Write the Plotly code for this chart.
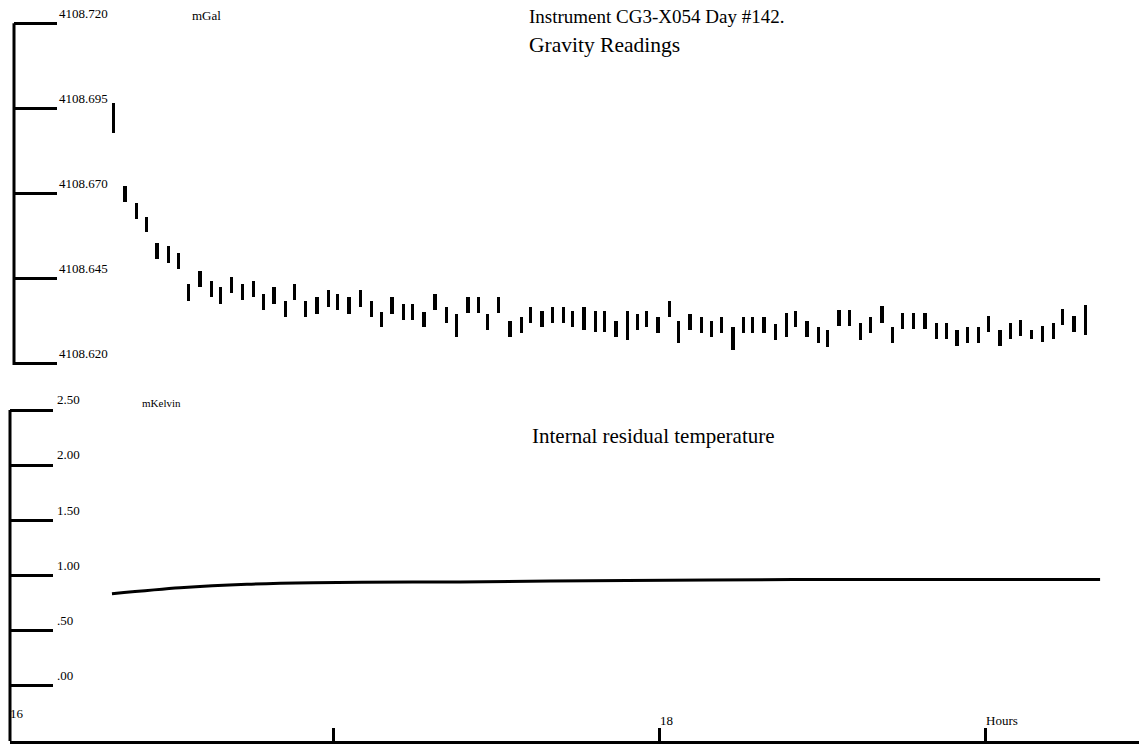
import plotly.graph_objects as go

# ---------------- data ----------------
# Gravity readings: time (decimal hours) and reading range (mGal)
grav_hours = [16.328, 16.362, 16.396, 16.429, 16.460, 16.494, 16.525, 16.558, 16.592, 16.626,
              16.656, 16.690, 16.721, 16.755, 16.788, 16.819, 16.853, 16.883, 16.917, 16.951,
              16.985, 17.015, 17.049, 17.083, 17.117, 17.150, 17.181, 17.215, 17.245, 17.279,
              17.313, 17.347, 17.380, 17.414, 17.445, 17.475, 17.509, 17.543, 17.577, 17.607,
              17.641, 17.672, 17.706, 17.736, 17.770, 17.804, 17.834, 17.868, 17.902, 17.933,
              17.963, 17.997, 18.031, 18.061, 18.095, 18.129, 18.160, 18.193, 18.227, 18.258,
              18.288, 18.322, 18.356, 18.390, 18.420, 18.454, 18.488, 18.518, 18.552, 18.583,
              18.617, 18.650, 18.684, 18.715, 18.748, 18.782, 18.816, 18.850, 18.883, 18.914,
              18.945, 18.979, 19.012, 19.046, 19.077, 19.110, 19.144, 19.175, 19.209, 19.239,
              19.273, 19.307]

grav_high = [4108.6966, 4108.6721, 4108.6671, 4108.6630, 4108.6554, 4108.6545, 4108.6524, 4108.6433, 4108.6471, 4108.6442,
             4108.6424, 4108.6454, 4108.6433, 4108.6442, 4108.6404, 4108.6424, 4108.6383, 4108.6433, 4108.6383, 4108.6395,
             4108.6416, 4108.6404, 4108.6395, 4108.6416, 4108.6383, 4108.6351, 4108.6395, 4108.6374, 4108.6374, 4108.6351,
             4108.6404, 4108.6366, 4108.6345, 4108.6395, 4108.6395, 4108.6345, 4108.6395, 4108.6324, 4108.6336, 4108.6366,
             4108.6354, 4108.6366, 4108.6366, 4108.6354, 4108.6366, 4108.6354, 4108.6354, 4108.6324, 4108.6354, 4108.6345,
             4108.6354, 4108.6336, 4108.6383, 4108.6324, 4108.6345, 4108.6336, 4108.6324, 4108.6336, 4108.6307, 4108.6336,
             4108.6336, 4108.6336, 4108.6316, 4108.6348, 4108.6354, 4108.6324, 4108.6307, 4108.6298, 4108.6357, 4108.6357,
             4108.6319, 4108.6336, 4108.6369, 4108.6307, 4108.6348, 4108.6348, 4108.6348, 4108.6319, 4108.6319, 4108.6298,
             4108.6307, 4108.6307, 4108.6339, 4108.6298, 4108.6319, 4108.6327, 4108.6298, 4108.6310, 4108.6319, 4108.6360,
             4108.6339, 4108.6371]

grav_low = [4108.6877, 4108.6674, 4108.6624, 4108.6586, 4108.6507, 4108.6495, 4108.6477, 4108.6383, 4108.6424, 4108.6395,
            4108.6374, 4108.6407, 4108.6386, 4108.6395, 4108.6357, 4108.6374, 4108.6336, 4108.6386, 4108.6336, 4108.6345,
            4108.6366, 4108.6357, 4108.6345, 4108.6366, 4108.6336, 4108.6307, 4108.6345, 4108.6327, 4108.6327, 4108.6307,
            4108.6357, 4108.6319, 4108.6277, 4108.6348, 4108.6348, 4108.6298, 4108.6348, 4108.6277, 4108.6289, 4108.6319,
            4108.6307, 4108.6319, 4108.6319, 4108.6307, 4108.6298, 4108.6292, 4108.6292, 4108.6277, 4108.6269, 4108.6298,
            4108.6307, 4108.6289, 4108.6336, 4108.6260, 4108.6298, 4108.6289, 4108.6277, 4108.6289, 4108.6239, 4108.6289,
            4108.6289, 4108.6289, 4108.6269, 4108.6277, 4108.6307, 4108.6277, 4108.6260, 4108.6248, 4108.6310, 4108.6310,
            4108.6269, 4108.6289, 4108.6319, 4108.6260, 4108.6301, 4108.6301, 4108.6301, 4108.6271, 4108.6271, 4108.6251,
            4108.6260, 4108.6260, 4108.6292, 4108.6251, 4108.6271, 4108.6280, 4108.6271, 4108.6263, 4108.6271, 4108.6313,
            4108.6292, 4108.6283]

# Internal residual temperature (mKelvin)
temp_hours = [16.322, 16.531, 16.736, 16.939, 17.245, 17.390, 17.902, 18.411, 18.893, 19.353]
temp_vals = [0.834, 0.888, 0.920, 0.934, 0.940, 0.942, 0.955, 0.963, 0.963, 0.963]

grav_ticks = [4108.620, 4108.645, 4108.670, 4108.695, 4108.720]
grav_ticktext = ["4108.620", "4108.645", "4108.670", "4108.695", "4108.720"]
temp_ticks = [0.0, 0.5, 1.0, 1.5, 2.0, 2.5]
temp_ticktext = [".00", ".50", "1.00", "1.50", "2.00", "2.50"]
hour_ticks = [17, 18, 19]
hour_ticktext = ["", "18", "Hours"]

# ---------------- figure ----------------
W, H = 1139, 750
SERIF = "Liberation Serif, Times New Roman, serif"

fig = go.Figure()

fig.add_trace(go.Bar(
    x=grav_hours,
    base=grav_low,
    y=[h - l for h, l in zip(grav_high, grav_low)],
    width=0.0095,
    marker=dict(color="black", line=dict(width=0)),
    xaxis="x2", yaxis="y2",
    showlegend=False,
))

fig.add_trace(go.Scatter(
    x=temp_hours, y=temp_vals,
    mode="lines",
    line=dict(color="black", width=3, shape="spline", smoothing=0.8),
    xaxis="x", yaxis="y",
    showlegend=False,
))

px_per_hour = 326.0
x0_hour = 16 - 7 / px_per_hour  # hour 16 sits at pixel 7

def xr(left_px):
    return [x0_hour + left_px / px_per_hour, x0_hour + W / px_per_hour]

# vertical pixel scales
g_px = 3400.0      # px per mGal   (4108.720 at y=23.3, 4108.620 at y=363.3)
t_px = 331 / 3.0   # px per mK     (2.50 at y=410, -0.50 at y=741)
g_top_px, g_bot_px = 4, 365
t_top_px, t_bot_px = 392, 741
g_range = [4108.620 - (g_bot_px - 363.3) / g_px, 4108.720 + (23.3 - g_top_px) / g_px]
t_range = [-0.5, 2.5 + (410 - t_top_px) / t_px]

tickfont = dict(family=SERIF, size=13, color="black")

fig.update_layout(
    width=W, height=H,
    margin=dict(l=0, r=0, t=0, b=0),
    paper_bgcolor="white", plot_bgcolor="white",
    font=dict(family=SERIF, color="black"),
    bargap=0,
    xaxis=dict(
        domain=[10 / W, 1], range=xr(10), anchor="y",
        showline=True, linecolor="black", linewidth=3,
        ticks="inside", ticklen=13, tickwidth=3, tickcolor="black",
        tickvals=hour_ticks, ticktext=hour_ticktext,
        ticklabelposition="inside right", ticklabelstandoff=10, ticklabelshift=-2,
        tickfont=dict(family=SERIF, size=13, color="black"),
        showgrid=False, zeroline=False, fixedrange=True,
    ),
    yaxis=dict(
        domain=[(H - t_bot_px) / H, (H - t_top_px) / H], range=t_range, anchor="x",
        showline=False,
        ticks="inside", ticklen=43, tickwidth=2.5, tickcolor="black",
        tickvals=temp_ticks, ticktext=temp_ticktext,
        ticklabelposition="inside top", ticklabelstandoff=44,
        tickfont=tickfont,
        showgrid=False, zeroline=False, fixedrange=True,
    ),
    xaxis2=dict(
        domain=[14 / W, 1], range=xr(14), anchor="y2",
        visible=False, showgrid=False, zeroline=False, fixedrange=True,
    ),
    yaxis2=dict(
        domain=[(H - g_bot_px) / H, (H - g_top_px) / H], range=g_range, anchor="x2",
        showline=False,
        ticks="inside", ticklen=43, tickwidth=2.5, tickcolor="black",
        tickvals=grav_ticks, ticktext=grav_ticktext,
        ticklabelposition="inside top", ticklabelstandoff=42,
        tickfont=tickfont,
        showgrid=False, zeroline=False, fixedrange=True,
    ),
)

# vertical axis spines spanning exactly the labelled ranges
fig.add_shape(type="line", xref="x2 domain", yref="y2", x0=0, x1=0,
              y0=g_range[0], y1=grav_ticks[-1], line=dict(color="black", width=3))
fig.add_shape(type="line", xref="x domain", yref="y", x0=0, x1=0,
              y0=t_range[0], y1=temp_ticks[-1], line=dict(color="black", width=3))

def ann(text, x, y, size, xanchor="left"):
    fig.add_annotation(text=text, x=x / W, y=1 - y / H, xref="paper", yref="paper",
                       xanchor=xanchor, yanchor="middle", showarrow=False,
                       font=dict(family=SERIF, size=size, color="black"))

ann("Instrument CG3-X054 Day #142.", 527, 17, 19)
ann("Gravity Readings", 527, 45, 21.5)
ann("Internal residual temperature", 530, 436, 21)
ann("mGal", 206, 15, 13, xanchor="center")
ann("mKelvin", 161, 403, 11, xanchor="center")
ann("16", 8, 713, 13, xanchor="left")

fig.write_html("out.html")
